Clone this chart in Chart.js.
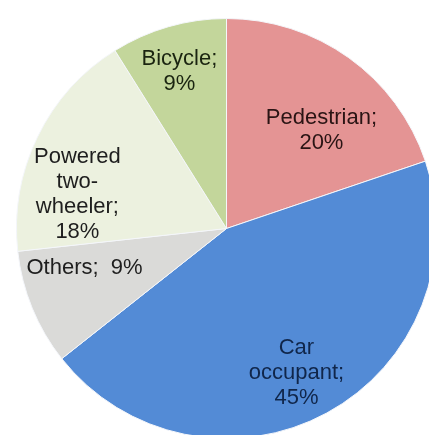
<!DOCTYPE html>
<html>
<head>
<meta charset="utf-8">
<script src="https://cdn.jsdelivr.net/npm/chart.js@4/dist/chart.umd.min.js"></script>
<style>
  html, body { margin: 0; padding: 0; background: #ffffff; overflow: hidden; width: 429px; height: 435px; }
  #wrap { position: absolute; left: 16px; top: 18px; width: 421px; height: 421px; }
</style>
</head>
<body>
<div id="wrap"><canvas id="c"></canvas></div>
<script>
const categories = ["Pedestrian", "Car occupant", "Others", "Powered two-wheeler", "Bicycle"];
const values = [20, 45, 9, 18, 9];
const labelLines = [
  ["Pedestrian;", "20%"],
  ["Car", "occupant;", "45%"],
  ["Others;  9%"],
  ["Powered", "two-", "wheeler;", "18%"],
  ["Bicycle;", "9%"]
];
const colors = ["#E49494", "#538BD6", "#DADAD8", "#ECF1DF", "#C3D69B"];
const textColors = ["#2a1414", "#10264a", "#1e1e1e", "#1e1e1e", "#1a2410"];
// label block centre, relative to pie centre, in units of radius
const labelAnchors = [[0.452, -0.467], [0.333, 0.686], [-0.676, 0.186], [-0.71, -0.162], [-0.224, -0.748]];

const labelPlugin = {
  id: 'sliceLabels',
  afterDatasetsDraw(chart) {
    const ctx = chart.ctx;
    const meta = chart.getDatasetMeta(0);
    ctx.save();
    ctx.font = '22px "Liberation Sans", Arial, sans-serif';
    ctx.textAlign = 'center';
    ctx.textBaseline = 'middle';
    const lh = 25;
    meta.data.forEach((arc, i) => {
      const cx = arc.x, cy = arc.y, R = arc.outerRadius;
      const bx = cx + labelAnchors[i][0] * R;
      const by = cy + labelAnchors[i][1] * R;
      const lines = labelLines[i];
      const y0 = by - (lines.length - 1) * lh / 2;
      ctx.fillStyle = textColors[i];
      lines.forEach((t, k) => ctx.fillText(t, bx, y0 + k * lh));
    });
    ctx.restore();
  }
};

new Chart(document.getElementById('c'), {
  type: 'pie',
  data: {
    labels: categories,
    datasets: [{
      data: values,
      backgroundColor: colors,
      borderColor: '#f4f6fa',
      borderWidth: 1,
      hoverOffset: 0
    }]
  },
  options: {
    responsive: true,
    maintainAspectRatio: false,
    animation: false,
    layout: { padding: 0 },
    plugins: { legend: { display: false }, tooltip: { enabled: false } }
  },
  plugins: [labelPlugin]
});
</script>
</body>
</html>
